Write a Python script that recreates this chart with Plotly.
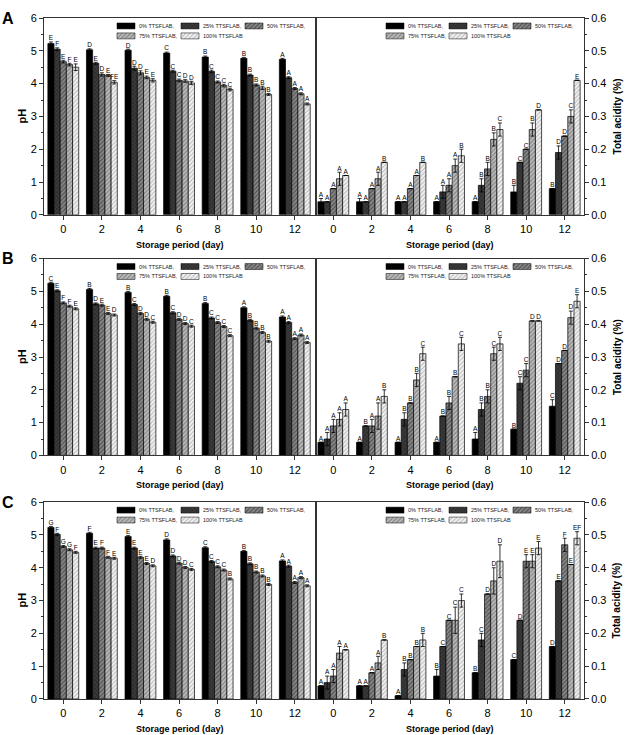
import plotly.graph_objects as go

# ---------------- data ----------------
days = [0, 2, 4, 6, 8, 10, 12]
series_names = ["0% TTSFLAB,", "25% TTSFLAB,", "50% TTSFLAB,", "75% TTSFLAB,", "100% TTSFLAB"]
panel_labels = ["A", "B", "C"]

# rows = series (0%, 25%, 50%, 75%, 100%), columns = days
ph_A = [[5.22, 5.03, 5.02, 4.93, 4.81, 4.77, 4.74],
        [5.05, 4.62, 4.47, 4.38, 4.37, 4.26, 4.18],
        [4.67, 4.28, 4.33, 4.10, 4.05, 3.96, 3.85],
        [4.58, 4.25, 4.19, 4.08, 3.94, 3.87, 3.69],
        [4.50, 4.04, 4.10, 4.02, 3.82, 3.67, 3.38]]
ph_A_err = [[0.05, 0.03, 0.03, 0.03, 0.03, 0.03, 0.03],
            [0.04, 0.03, 0.06, 0.03, 0.04, 0.03, 0.03],
            [0.04, 0.05, 0.06, 0.04, 0.03, 0.03, 0.03],
            [0.04, 0.03, 0.04, 0.04, 0.04, 0.05, 0.03],
            [0.10, 0.05, 0.05, 0.05, 0.04, 0.03, 0.03]]
ph_A_sig = [["E", "D", "D", "C", "B", "B", "A"],
            ["F", "E", "D", "C", "C", "B", "A"],
            ["E", "D", "D", "C", "C", "B", "A"],
            ["F", "E", "E", "D", "C", "B", "A"],
            ["E", "FE", "E", "D", "C", "B", "A"]]

ta_A = [[0.04, 0.04, 0.04, 0.04, 0.04, 0.07, 0.08],
        [0.04, 0.04, 0.04, 0.07, 0.09, 0.16, 0.19],
        [0.08, 0.08, 0.08, 0.09, 0.14, 0.20, 0.24],
        [0.11, 0.11, 0.12, 0.15, 0.23, 0.26, 0.30],
        [0.12, 0.16, 0.16, 0.18, 0.26, 0.32, 0.41]]
ta_A_err = [[0.01, 0.01, 0.0, 0.0, 0.0, 0.02, 0.0],
            [0.0, 0.0, 0.0, 0.02, 0.02, 0.0, 0.02],
            [0.0, 0.0, 0.0, 0.02, 0.02, 0.0, 0.0],
            [0.02, 0.02, 0.0, 0.02, 0.02, 0.02, 0.02],
            [0.0, 0.0, 0.0, 0.02, 0.02, 0.0, 0.0]]
ta_A_sig = [["A", "A", "A", "A", "A", "B", "B"],
            ["A", "A", "A", "A", "B", "C", "D"],
            ["A", "A", "A", "A", "B", "C", "D"],
            ["A", "A", "A", "A", "B", "B", "C"],
            ["A", "B", "B", "B", "C", "D", "E"]]

ph_B = [[5.25, 5.06, 4.97, 4.85, 4.63, 4.50, 4.22],
        [5.02, 4.62, 4.60, 4.35, 4.19, 4.12, 4.05],
        [4.65, 4.58, 4.33, 4.15, 4.05, 3.88, 3.56],
        [4.55, 4.33, 4.15, 4.02, 3.93, 3.75, 3.67],
        [4.47, 4.28, 4.06, 3.94, 3.65, 3.48, 3.44]]
ph_B_err = [[0.03, 0.03, 0.03, 0.03, 0.03, 0.03, 0.03],
            [0.03, 0.03, 0.03, 0.03, 0.03, 0.03, 0.03],
            [0.03, 0.03, 0.03, 0.03, 0.03, 0.03, 0.03],
            [0.03, 0.03, 0.03, 0.03, 0.03, 0.03, 0.03],
            [0.03, 0.03, 0.03, 0.03, 0.03, 0.03, 0.03]]
ph_B_sig = [["C", "B", "B", "B", "B", "A", "A"],
            ["E", "D", "C", "C", "C", "B", "A"],
            ["F", "E", "D", "D", "C", "B", "A"],
            ["F", "E", "D", "D", "C", "B", "A"],
            ["E", "D", "C", "C", "C", "B", "A"]]

ta_B = [[0.04, 0.04, 0.04, 0.04, 0.05, 0.08, 0.15],
        [0.05, 0.09, 0.11, 0.12, 0.14, 0.22, 0.28],
        [0.09, 0.09, 0.16, 0.16, 0.18, 0.26, 0.32],
        [0.11, 0.12, 0.23, 0.24, 0.31, 0.41, 0.42],
        [0.14, 0.18, 0.31, 0.34, 0.34, 0.41, 0.47]]
ta_B_err = [[0.0, 0.0, 0.0, 0.0, 0.02, 0.0, 0.02],
            [0.02, 0.0, 0.02, 0.0, 0.02, 0.02, 0.0],
            [0.02, 0.02, 0.0, 0.02, 0.02, 0.02, 0.0],
            [0.02, 0.04, 0.02, 0.0, 0.02, 0.0, 0.02],
            [0.02, 0.02, 0.02, 0.02, 0.02, 0.0, 0.02]]
ta_B_sig = [["A", "A", "A", "A", "A", "B", "C"],
            ["A", "B", "B", "B", "B", "C", "D"],
            ["A", "A", "B", "B", "B", "C", "D"],
            ["A", "A", "B", "B", "C", "D", "D"],
            ["A", "B", "C", "C", "C", "D", "E"]]

ph_C = [[5.23, 5.05, 4.95, 4.85, 4.61, 4.50, 4.21],
        [5.02, 4.60, 4.60, 4.36, 4.19, 4.12, 4.05],
        [4.65, 4.60, 4.32, 4.14, 4.03, 3.87, 3.55],
        [4.55, 4.32, 4.13, 4.01, 3.93, 3.75, 3.70],
        [4.47, 4.29, 4.06, 3.95, 3.66, 3.49, 3.45]]
ph_C_err = [[0.03, 0.03, 0.03, 0.03, 0.03, 0.03, 0.03],
            [0.03, 0.03, 0.03, 0.03, 0.03, 0.03, 0.03],
            [0.03, 0.03, 0.03, 0.03, 0.03, 0.03, 0.03],
            [0.03, 0.03, 0.03, 0.03, 0.03, 0.03, 0.03],
            [0.03, 0.03, 0.03, 0.03, 0.03, 0.03, 0.03]]
ph_C_sig = [["G", "F", "E", "D", "C", "B", "A"],
            ["F", "E", "E", "D", "C", "B", "A"],
            ["G", "F", "E", "D", "C", "B", "A"],
            ["G", "F", "E", "D", "C", "B", "A"],
            ["F", "E", "D", "C", "B", "B", "A"]]

ta_C = [[0.04, 0.04, 0.01, 0.07, 0.08, 0.12, 0.16],
        [0.05, 0.04, 0.09, 0.16, 0.18, 0.24, 0.36],
        [0.07, 0.08, 0.12, 0.24, 0.32, 0.42, 0.47],
        [0.14, 0.11, 0.16, 0.24, 0.36, 0.42, 0.41],
        [0.15, 0.18, 0.18, 0.30, 0.42, 0.46, 0.49]]
ta_C_err = [[0.0, 0.0, 0.0, 0.02, 0.0, 0.0, 0.0],
            [0.02, 0.0, 0.02, 0.0, 0.02, 0.0, 0.0],
            [0.02, 0.0, 0.0, 0.0, 0.0, 0.02, 0.02],
            [0.02, 0.02, 0.0, 0.04, 0.04, 0.02, 0.0],
            [0.0, 0.0, 0.02, 0.02, 0.05, 0.02, 0.02]]
ta_C_sig = [["A", "A", "A", "B", "B", "C", "D"],
            ["A", "A", "B", "C", "C", "D", "E"],
            ["A", "A", "B", "C", "D", "E", "F"],
            ["A", "A", "B", "C", "D", "E", "E"],
            ["A", "B", "B", "C", "D", "E", "EF"]]

panels = [
    (ph_A, ph_A_err, ph_A_sig, ta_A, ta_A_err, ta_A_sig),
    (ph_B, ph_B_err, ph_B_sig, ta_B, ta_B_err, ta_B_sig),
    (ph_C, ph_C_err, ph_C_sig, ta_C, ta_C_err, ta_C_sig),
]

# ---------------- layout geometry (pixels) ----------------
W, H = 630, 735
ML, MR, MT, MB = 44, 46, 14, 36
PW = W - ML - MR
PHt = H - MT - MB
DIV = 316
panel_tops = [14, 256, 501]
panel_h = 198
FONT = "Liberation Sans, Arial, sans-serif"


def fx(x):
    return (x - ML) / PW


def fy(y):
    return (H - MB - y) / PHt


styles = [
    dict(color="#000000"),
    dict(color="#3a3a3a", pattern=dict(shape="x", fgcolor="#111111", bgcolor="#3a3a3a", size=3, solidity=0.35)),
    dict(color="#6e6e6e", pattern=dict(shape="/", fgcolor="#222222", bgcolor="#8a8a8a", size=3, solidity=0.45)),
    dict(color="#a8a8a8", pattern=dict(shape="/", fgcolor="#555555", bgcolor="#bdbdbd", size=3, solidity=0.45)),
    dict(color="#e0e0e0", pattern=dict(shape="/", fgcolor="#8a8a8a", bgcolor="#f4f4f4", size=3, solidity=0.4)),
]

BAR_W = 0.32
GROUP_START = -0.8

fig = go.Figure()
layout = dict(
    width=W, height=H,
    margin=dict(l=ML, r=MR, t=MT, b=MB, pad=0),
    paper_bgcolor="white", plot_bgcolor="rgba(0,0,0,0)",
    showlegend=False, barmode="overlay",
    font=dict(family=FONT, color="black", size=11),
)
annotations = []

axis_line = dict(showline=True, linecolor="#333333", linewidth=1, mirror=True,
                 ticks="outside", tickcolor="#333333", tickwidth=1,
                 showgrid=False, zeroline=False, tickfont=dict(size=11, family=FONT))

for p, (ph, ph_e, ph_s, ta, ta_e, ta_s) in enumerate(panels):
    top = panel_tops[p]
    ydom = [fy(top + panel_h), fy(top)]
    li, ri = 2 * p + 1, 2 * p + 2
    for side, (vals, errs, sigs) in enumerate([(ph, ph_e, ph_s), (ta, ta_e, ta_s)]):
        idx = li if side == 0 else ri
        xa = "x" if idx == 1 else f"x{idx}"
        ya = "y" if idx == 1 else f"y{idx}"
        for i in range(5):
            st = styles[i]
            marker = dict(color=st["color"], line=dict(color="#000000", width=0.7))
            if "pattern" in st:
                marker["pattern"] = st["pattern"]
            fig.add_trace(go.Bar(
                x=days, y=vals[i], width=BAR_W, offset=GROUP_START + BAR_W * i,
                marker=marker, xaxis=xa, yaxis=ya, showlegend=False,
                error_y=dict(type="data", array=errs[i], visible=True,
                             color="#000000", thickness=0.8, width=2),
                hoverinfo="skip",
            ))
            fig.add_trace(go.Scatter(
                x=[d + GROUP_START + BAR_W * (i + 0.5) for d in days],
                y=[v + e for v, e in zip(vals[i], errs[i])],
                text=sigs[i], mode="text", textposition="top center",
                textfont=dict(size=6.5, color="#000000", family=FONT),
                xaxis=xa, yaxis=ya, showlegend=False, cliponaxis=False, hoverinfo="skip",
            ))
        xkey = "xaxis" if idx == 1 else f"xaxis{idx}"
        ykey = "yaxis" if idx == 1 else f"yaxis{idx}"
        xdom = [0, fx(DIV)] if side == 0 else [fx(DIV), 1]
        layout[xkey] = dict(axis_line, domain=xdom, anchor=ya,
                            range=[-1, 13.1] if side == 0 else [-0.9, 13],
                            tickvals=days, ticklen=4)
        if side == 0:
            layout[ykey] = dict(axis_line, domain=ydom, anchor=xa, range=[0, 6],
                                dtick=1, ticklen=4, side="left",
                                minor=dict(dtick=0.5, ticklen=2, ticks="outside", tickcolor="#333333"))
        else:
            layout[ykey] = dict(axis_line, domain=ydom, anchor=xa, range=[0, 0.6],
                                dtick=0.1, tickformat=".1f", ticklen=4, side="right",
                                minor=dict(dtick=0.05, ticklen=2, ticks="outside", tickcolor="#333333"))

    # text annotations for this panel
    annotations.append(dict(text="<b>" + panel_labels[p] + "</b>", x=fx(8), y=fy(top), xref="paper", yref="paper",
                            showarrow=False, font=dict(size=16, family=FONT, color="black"),
                            xanchor="center", yanchor="middle"))
    annotations.append(dict(text="<b>pH</b>", x=fx(22), y=fy(top + panel_h / 2), xref="paper", yref="paper",
                            showarrow=False, textangle=-90, font=dict(size=11, family=FONT, color="black"),
                            xanchor="center", yanchor="middle"))
    annotations.append(dict(text="<b>Total acidity (%)</b>", x=fx(617), y=fy(top + panel_h / 2), xref="paper", yref="paper",
                            showarrow=False, textangle=-90, font=dict(size=10, family=FONT, color="black"),
                            xanchor="center", yanchor="middle"))
    for cx in (180, 450):
        annotations.append(dict(text="<b>Storage period (day)</b>", x=fx(cx), y=fy(top + 228), xref="paper", yref="paper",
                                showarrow=False, font=dict(size=9, family=FONT, color="black"),
                                xanchor="center", yanchor="middle"))

    # hand-drawn legends (two rows, three columns) in each half
    for sx_list in ([117, 181, 245], [386, 449, 513]):
        for i in range(5):
            row, col = divmod(i, 3)
            ry = top + 8 + 10 * row
            sx = sx_list[col]
            st = styles[i]
            marker = dict(color=st["color"], line=dict(color="#000000", width=0.5))
            if "pattern" in st:
                marker["pattern"] = st["pattern"]
            fig.add_trace(go.Bar(
                y=[ry], x=[18], base=[sx], width=[6], orientation="h",
                marker=marker, xaxis="x7", yaxis="y7", showlegend=False, hoverinfo="skip",
            ))
            annotations.append(dict(text=series_names[i], x=fx(sx + 20), y=fy(ry), xref="paper", yref="paper",
                                    showarrow=False, font=dict(size=5.5, family=FONT, color="#222222"),
                                    xanchor="left", yanchor="middle"))

layout["xaxis7"] = dict(domain=[0, 1], range=[ML, W - MR], visible=False, anchor="y7", fixedrange=True)
layout["yaxis7"] = dict(domain=[0, 1], range=[H - MB, MT], visible=False, anchor="x7", fixedrange=True)
layout["annotations"] = annotations

fig.update_layout(**layout)
fig.write_html("out.html")
